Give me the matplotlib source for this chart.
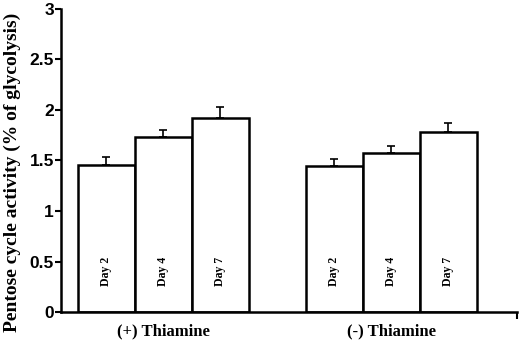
import matplotlib.pyplot as plt
import numpy as np

groups = ["(+) Thiamine", "(-) Thiamine"]
days = ["Day 2", "Day 4", "Day 7"]
means = [[1.45, 1.73, 1.92], [1.44, 1.57, 1.78]]
errors = [[0.08, 0.07, 0.11], [0.07, 0.07, 0.09]]

serif = "Liberation Serif"
sans = "Liberation Sans"

fig = plt.figure(figsize=(5.2, 3.46), dpi=100)
ax = fig.add_axes([0.117, 0.098, 0.877, 0.877])

for g, (vals, errs) in enumerate(zip(means, errors)):
    x = np.arange(len(vals)) + 0.8 + 4 * g
    ax.bar(x, vals, width=1.0, color="white", edgecolor="black", linewidth=1.8)
    ax.errorbar(x, vals, yerr=[np.zeros(len(errs)), errs], fmt="none",
                ecolor="black", elinewidth=1.2, capsize=3, capthick=1.2)
    for xi, d in zip(x, days):
        ax.text(xi, 0.4, d, rotation=90, ha="center", va="center",
                fontsize=8.5, fontweight="bold", family=serif)

ax.set_xlim(0, 8)
ax.set_ylim(0, 3)
ax.spines["top"].set_visible(False)
ax.spines["right"].set_visible(False)
ax.spines["left"].set_linewidth(1.8)
ax.spines["bottom"].set_linewidth(1.8)

ax.set_yticks([0, 0.5, 1, 1.5, 2, 2.5, 3])
ax.set_yticklabels(["0", "0.5", "1", "1.5", "2", "2.5", "3"])
ax.tick_params(axis="y", length=4, width=1.5, pad=1)
for lab in ax.get_yticklabels():
    lab.set_fontsize(12.5)
    lab.set_fontweight("bold")
    lab.set_family(sans)

ax.set_xticks([1.8, 5.8])
ax.set_xticklabels(groups)
ax.set_xticks([8], minor=True)
ax.tick_params(axis="x", which="major", length=0, pad=8)
ax.tick_params(axis="x", which="minor", length=5, width=1.5)
for lab in ax.get_xticklabels():
    lab.set_fontsize(12)
    lab.set_fontweight("bold")
    lab.set_family(serif)

ax.set_ylabel("Pentose cycle activity (% of glycolysis)", fontsize=14,
              fontweight="bold", family=serif)
ax.yaxis.set_label_coords(-0.088, 0.46)

fig.savefig("out.png", dpi=100)
